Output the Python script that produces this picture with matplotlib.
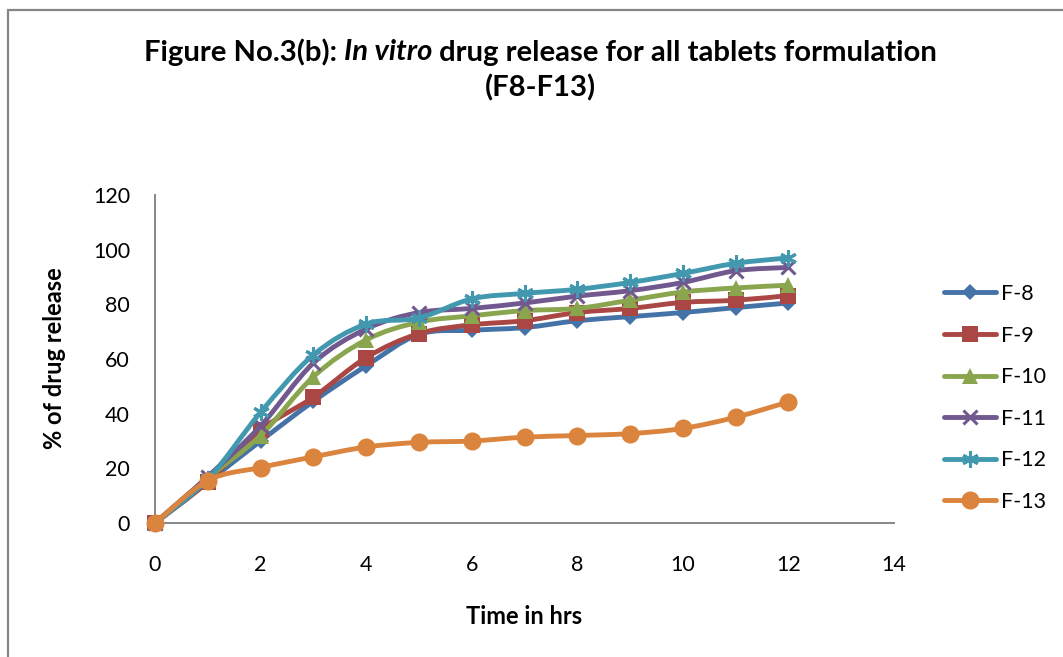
import numpy as np
import matplotlib
matplotlib.use('Agg')
import matplotlib.pyplot as plt
from matplotlib.path import Path
from matplotlib.patches import PathPatch, Rectangle
from matplotlib.lines import Line2D

# ---------------- data ----------------
time_hrs = [0, 1, 2, 3, 4, 5, 6, 7, 8, 9, 10, 11, 12]
series_names = ['F-8', 'F-9', 'F-10', 'F-11', 'F-12', 'F-13']
f8 = [0, 15.0, 30.0, 44.5, 57.5, 69.0, 70.5, 71.5, 74.0, 75.5, 77.0, 78.8, 80.5]
f9 = [0, 15.0, 34.0, 46.0, 60.5, 69.3, 72.5, 74.0, 77.0, 78.5, 80.7, 81.5, 83.2]
f10 = [0, 16.5, 32.0, 53.5, 67.0, 73.5, 75.8, 77.7, 78.5, 81.5, 84.5, 86.0, 87.0]
f11 = [0, 17.0, 35.5, 58.5, 71.0, 77.0, 78.5, 80.5, 83.0, 85.0, 88.0, 92.3, 93.5]
f12 = [0, 16.0, 40.5, 61.5, 72.8, 75.0, 82.0, 84.0, 85.5, 88.0, 91.3, 95.0, 97.0]
f13 = [0, 15.5, 20.3, 24.2, 27.8, 29.5, 30.0, 31.4, 32.0, 32.7, 34.6, 38.7, 44.3]
x_ticks = [0, 2, 4, 6, 8, 10, 12, 14]
y_ticks = [0, 20, 40, 60, 80, 100, 120]

series_values = [f8, f9, f10, f11, f12, f13]
colors = ['#4572A7', '#AA4643', '#89A54E', '#71588F', '#4198AF', '#DB843D']
markers = ['D', 's', '^', 'x', (6, 2, 0), 'o']
marker_sizes = [8, 11, 12, 10, 12, 13]

FONT = 'Lato'
plt.rcParams['font.family'] = [FONT, 'DejaVu Sans']

W, H = 1063, 657
fig = plt.figure(figsize=(W / 100, H / 100), dpi=100)


def fx(px):
    return px / W


def fy(py):
    return 1 - py / H


# outer chart frame
fig.patches.append(Rectangle((fx(8), fy(H + 20)), fx(W + 20) - fx(8), fy(10) - fy(H + 20),
                             transform=fig.transFigure, fill=False,
                             edgecolor='#868686', lw=1.6))

ax = fig.add_axes([fx(155), fy(523), fx(894) - fx(155), (523 - 195) / H])
ax.set_xlim(0, 14)
ax.set_ylim(0, 120)
ax.set_xticks(x_ticks)
ax.set_yticks(y_ticks)
for s in ['top', 'right']:
    ax.spines[s].set_visible(False)
for s in ['left', 'bottom']:
    ax.spines[s].set_color('#868686')
    ax.spines[s].set_linewidth(1.4)
ax.tick_params(axis='both', length=0, labelsize=15.5, colors='black')
ax.tick_params(axis='y', pad=18)
ax.tick_params(axis='x', pad=23)


def smooth_path(x, y, t=1 / 6):
    x = np.asarray(x, float)
    y = np.asarray(y, float)
    n = len(x)
    verts = [(x[0], y[0])]
    codes = [Path.MOVETO]
    for i in range(n - 1):
        p0 = (x[i - 1], y[i - 1]) if i > 0 else (x[i], y[i])
        p1 = (x[i], y[i])
        p2 = (x[i + 1], y[i + 1])
        p3 = (x[i + 2], y[i + 2]) if i + 2 < n else p2
        c1 = (p1[0] + (p2[0] - p0[0]) * t, p1[1] + (p2[1] - p0[1]) * t)
        c2 = (p2[0] - (p3[0] - p1[0]) * t, p2[1] - (p3[1] - p1[1]) * t)
        verts += [c1, c2, p2]
        codes += [Path.CURVE4] * 3
    return Path(verts, codes)


LW = 3.5
handles = []
for i, (name, vals, c, m, ms) in enumerate(zip(series_names, series_values, colors, markers, marker_sizes)):
    patch = PathPatch(smooth_path(time_hrs, vals), facecolor='none', edgecolor=c, lw=LW,
                      capstyle='round', joinstyle='round', zorder=2 + 2 * i, clip_on=False)
    ax.add_patch(patch)
    mew = 2.2 if m in ('x', (6, 2, 0)) else 0
    ax.plot(time_hrs, vals, linestyle='none', marker=m, markersize=ms, color=c,
            markeredgecolor=c, markeredgewidth=mew, zorder=3 + 2 * i, clip_on=False)
    handles.append(Line2D([], [], color=c, lw=LW, marker=m, markersize=ms,
                          markeredgecolor=c, markeredgewidth=mew, solid_capstyle='round'))

leg = fig.legend(handles, series_names, loc='upper left',
                 bbox_to_anchor=(fx(944), fy(284)), frameon=False,
                 fontsize=15.5, handlelength=2.4, handletextpad=0.25,
                 labelspacing=1.0, borderpad=0, borderaxespad=0)

# axis titles
fig.text(fx(524.5), fy(616), 'Time in hrs', ha='center', va='center',
         fontsize=17, fontweight='bold')
fig.text(fx(55), fy(358), '% of drug release', ha='center', va='center',
         rotation=90, fontsize=17, fontweight='bold')

# title with italic part, sized to span the same width as the original
parts = [('Figure No.3(b): ', 'normal'), ('In vitro', 'italic'),
         (' drug release for all tablets formulation', 'normal')]
target_width = 795.0
renderer = fig.canvas.get_renderer()
texts = []
for s, style in parts:
    t = fig.text(0, fy(50), s, fontsize=16, fontweight='bold', fontstyle=style,
                 ha='left', va='center_baseline')
    texts.append(t)
total = sum(t.get_window_extent(renderer).width for t in texts)
title_size = 16 * target_width / total
for t in texts:
    t.set_fontsize(title_size)
widths = [t.get_window_extent(renderer).width for t in texts]
x0 = 540.5 - sum(widths) / 2
for t, w in zip(texts, widths):
    t.set_x(fx(x0))
    x0 += w
fig.text(fx(540.5), fy(85), '(F8-F13)', fontsize=title_size, fontweight='bold',
         ha='center', va='center_baseline')

fig.savefig('out.png', dpi=100)
